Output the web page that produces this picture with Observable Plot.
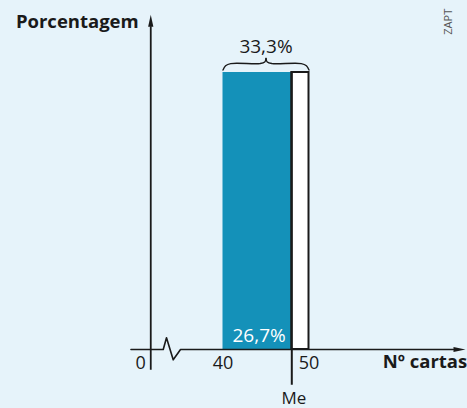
<!DOCTYPE html>
<html><head><meta charset="utf-8">
<script src="https://cdn.jsdelivr.net/npm/d3@7"></script>
<script src="https://cdn.jsdelivr.net/npm/@observablehq/plot@0.6"></script>
<style>
html,body{margin:0;padding:0;background:#e6f3fa;}
</style>
</head><body><div id="chart"></div>
<script>
// Data
const classStart = 40;          // class 40 |— 50
const classEnd = 50;
const classPercent = 33.3;      // percentage of the class
const median = 48;              // Me
const belowMedianPercent = 26.7;
const tickValues = [40, 50];
const tickLabels = ["40", "50"];
const originLabel = "0";
const axisOrigin = 31.6;        // broken axis: where "0" sits
const axisStart = 29.3;
const axisEnd = 66.8;
const yTop = 38.8;
const yBottom = -2.5;
const medianLineBottom = -4.3;
// zigzag break of the x axis
const breakPts = [[axisStart, 0], [33.05, 0], [33.43, 1.41], [34.21, -1.24], [35.06, 0], [axisEnd, 0]];

const ink = "#1a1a1a";
const fmt = v => v.toFixed(1).replace(".", ",") + "%";

const braceLeft = [[classStart,0.3],[classStart+0.3,0.8],[classStart+0.9,1.07],[44.3,1.07],[44.85,1.25],[45,1.68]];
const brace = [];
braceLeft.forEach(([x, d]) => brace.push({x, y: classPercent + d, s: "L"}));
braceLeft.forEach(([x, d]) => brace.push({x: classStart + classEnd - x, y: classPercent + d, s: "R"}));

const chart = Plot.plot({
  width: 467,
  height: 408,
  margin: 0,
  x: {domain: [40, 50], range: [222.5, 308.5], axis: null},
  y: {domain: [0, 33.3], range: [349, 72], axis: null},
  style: {background: "#e6f3fa", fontFamily: "'Open Sans', sans-serif", color: ink},
  marks: [
    // bars
    Plot.rect([{x1: classStart, x2: median, y1: 0, y2: classPercent}], {x1: "x1", x2: "x2", y1: "y1", y2: "y2", fill: "#1491b9"}),
    Plot.rect([{x1: median, x2: classEnd, y1: 0, y2: classPercent}], {x1: "x1", x2: "x2", y1: "y1", y2: "y2", fill: "#ffffff", stroke: ink, strokeWidth: 2}),
    // median line
    Plot.ruleX([median], {y1: medianLineBottom, y2: classPercent, stroke: ink, strokeWidth: 2}),
    // x axis with break
    Plot.line(breakPts, {x: d => d[0], y: d => d[1], stroke: ink, strokeWidth: 1.6}),
    Plot.vector([0], {x: () => axisEnd, y: () => 0, length: 12, rotate: 90, shape: "spike", r: 2.6, anchor: "start", fill: ink, stroke: "none"}),
    // y axis
    Plot.ruleX([axisOrigin], {y1: yBottom, y2: yTop, stroke: ink, strokeWidth: 1.8}),
    Plot.vector([0], {x: () => axisOrigin, y: () => yTop, length: 12, rotate: 0, shape: "spike", r: 2.6, anchor: "start", fill: ink, stroke: "none"}),
    // brace
    Plot.line(brace, {x: "x", y: "y", z: "s", curve: "catmull-rom", stroke: ink, strokeWidth: 1.4}),
    // texts
    Plot.text([fmt(classPercent)], {x: () => (classStart + classEnd) / 2, y: () => 35.6, text: d => d, lineAnchor: "bottom", fontSize: 19, fill: ink}),
    Plot.text([fmt(belowMedianPercent)], {x: () => 44.2, y: () => 0.96, text: d => d, lineAnchor: "bottom", fontSize: 19, fill: "white"}),
    Plot.text(tickValues, {x: d => d, y: () => -2.4, text: (d, i) => tickLabels[i], lineAnchor: "bottom", fontSize: 18, fill: ink}),
    Plot.text([originLabel], {x: () => axisOrigin, y: () => -2.3, text: d => d, dx: -10, lineAnchor: "bottom", fontSize: 18, fill: ink}),
    Plot.text(["Me"], {x: () => median, y: () => -6.5, text: d => d, dx: 2, lineAnchor: "bottom", fontSize: 17, fill: ink}),
    Plot.text(["Nº cartas"], {x: () => 68.4, y: () => -2.28, text: d => d, textAnchor: "end", lineAnchor: "bottom", fontSize: 18.5, fontWeight: "bold", fill: ink}),
    Plot.text(["Porcentagem"], {x: () => 30.2, y: () => 38.6, text: d => d, textAnchor: "end", lineAnchor: "bottom", fontSize: 18.5, fontWeight: "bold", fill: ink}),
    Plot.text(["ZAPT"], {x: () => 66.2, y: () => 39.4, text: d => d, rotate: -90, fontSize: 11, fill: "#555"})
  ]
});
document.getElementById("chart").appendChild(chart);
</script>
</body></html>
